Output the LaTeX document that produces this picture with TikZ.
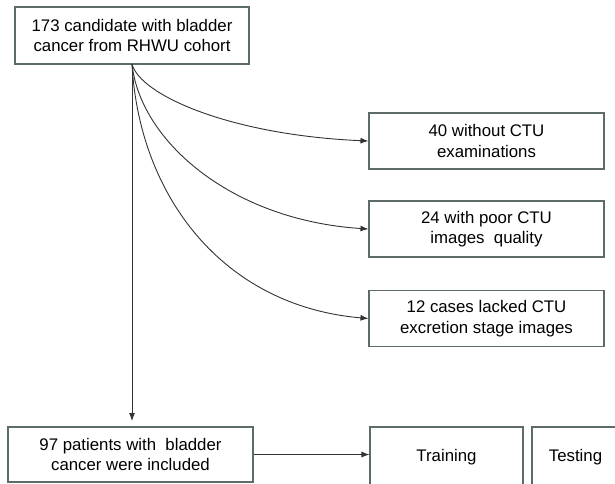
\documentclass[tikz,border=0pt]{standalone}
\usepackage{fontspec}
\setmainfont{Liberation Sans}
\usetikzlibrary{arrows.meta}
\definecolor{boxc}{HTML}{5E6B6B}
\definecolor{linec}{HTML}{333333}
\tikzset{
  box/.style={draw=boxc, line width=1.1pt, fill=white, align=center, inner sep=0pt,
    font=\fontsize{16.8}{20.5}\selectfont, text=black},
  lbl/.style={align=center, inner sep=0pt, font=\fontsize{16.8}{20.5}\selectfont, text=black},
  conn/.style={draw=linec, line width=0.9pt, -{Latex[length=8pt,width=6pt]}}
}
\begin{document}
\begin{tikzpicture}[x=1pt,y=-1pt]
\useasboundingbox (0,0) rectangle (615,483);
\clip (0,0) rectangle (615,483);
\fill[white] (0,0) rectangle (615,483);
\node[box, minimum width=234pt, minimum height=57pt] (top) at (132,35.5) {173 candidate with bladder\\cancer from RHWU cohort};
\node[box, minimum width=235pt, minimum height=56pt] (b40) at (486.5,141) {40 without CTU\\examinations};
\node[box, minimum width=235pt, minimum height=56pt] (b24) at (486.5,229) {24 with poor CTU\\images\ \ quality};
\node[box, minimum width=235pt, minimum height=56pt] (b12) at (486.5,318.5) {12 cases lacked CTU\\excretion stage images};
\node[box, minimum width=245pt, minimum height=55pt] (inc) at (130.5,454.5) {97 patients with\ \ bladder\\cancer were included};
\node[box, minimum width=153pt, minimum height=70pt] (train) at (446.5,462) {};
\node[box, minimum width=150pt, minimum height=70pt] (test) at (607,462) {};
\node[lbl] (trainlbl) at (446.5,457) {Training};
\node[lbl] (testlbl) at (575.5,457) {Testing};
\coordinate (s) at (132,64);
\draw[conn] (s) .. controls (140,95) and (230,135) .. (b40.west);
\draw[conn] (s) .. controls (140,140) and (230,220) .. (b24.west);
\draw[conn] (s) .. controls (139,195) and (222,306) .. (b12.west);
\draw[conn] (s) -- (132,421) coordinate (e);
\draw[conn] (inc.east) -- (inc.east -| train.west);
\end{tikzpicture}
\end{document}
